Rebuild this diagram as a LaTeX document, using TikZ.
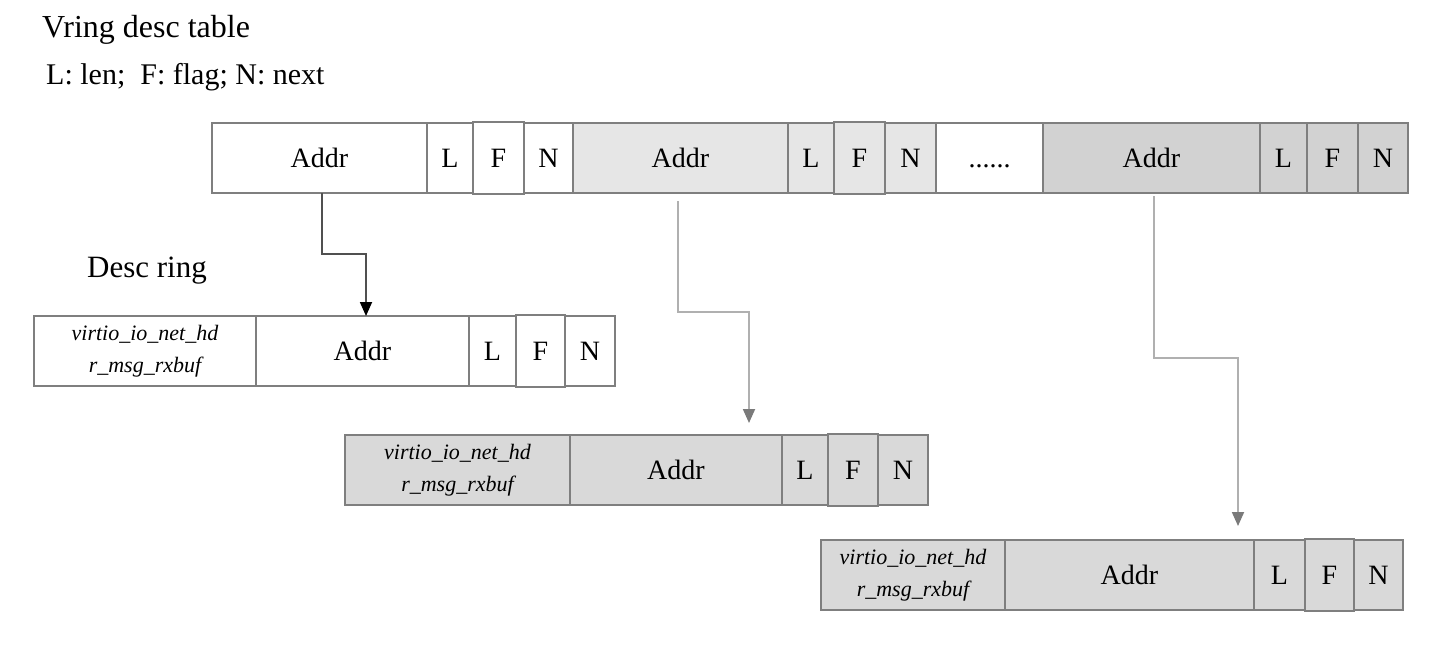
\documentclass[tikz,border=0pt]{standalone}
\usepackage{fontspec}
\setmainfont{Liberation Serif}
\usetikzlibrary{arrows.meta}
\definecolor{bord}{HTML}{7F7F7F}
\definecolor{fillA}{HTML}{E6E6E6}
\definecolor{fillB}{HTML}{D2D2D2}
\definecolor{fillC}{HTML}{D9D9D9}
\definecolor{arrg}{HTML}{B0B0B0}
\definecolor{arrgh}{HTML}{7A7A7A}
\definecolor{arrk}{HTML}{505050}
\tikzset{
  cell/.style={draw=bord, line width=1.6pt, anchor=north west, inner sep=0pt, outer sep=0pt,
    minimum height=70pt, font=\fontsize{28}{32}\selectfont},
  vcell/.style={cell, align=center, font=\fontsize{22}{32}\selectfont\itshape},
  lbl/.style={anchor=base west, inner sep=0pt, font=\fontsize{30}{34}\selectfont},
  arrblack/.style={draw=arrk, line width=1.8pt, -{Triangle[length=14pt,width=12pt,color=black]}},
  arrgray/.style={draw=arrg, line width=1.8pt, -{Triangle[length=14pt,width=12pt,color=arrgh]}}
}
\begin{document}
\begin{tikzpicture}[x=1pt,y=-1pt]
\path[use as bounding box, fill=white] (0,0) rectangle (1448,656);

\node[lbl, font=\fontsize{32}{36}\selectfont] (title) at (42,37) {Vring desc table};
\node[lbl] (legend) at (46,84) {L: len;\ \ F: flag; N: next};
\node[lbl, font=\fontsize{31}{36}\selectfont] (descring) at (87,277) {Desc ring};

% top row
\node[cell, minimum width=215pt] (t1a) at (212,123) {Addr};
\node[cell, minimum width=46pt] (t1l) at (427,123) {L};
\node[cell, minimum width=51pt, minimum height=72pt] (t1f) at (473,122) {F};
\node[cell, minimum width=49pt] (t1n) at (524,123) {N};
\node[cell, fill=fillA, minimum width=215pt] (t2a) at (573,123) {Addr};
\node[cell, fill=fillA, minimum width=46pt] (t2l) at (788,123) {L};
\node[cell, fill=fillA, minimum width=51pt, minimum height=72pt] (t2f) at (834,122) {F};
\node[cell, fill=fillA, minimum width=51pt] (t2n) at (885,123) {N};
\node[cell, minimum width=107pt] (tdots) at (936,123) {\vphantom{Ld}......};
\node[cell, fill=fillB, minimum width=217pt] (t3a) at (1043,123) {Addr};
\node[cell, fill=fillB, minimum width=47pt] (t3l) at (1260,123) {L};
\node[cell, fill=fillB, minimum width=51pt] (t3f) at (1307,123) {F};
\node[cell, fill=fillB, minimum width=50pt] (t3n) at (1358,123) {N};

% row 1
\node[vcell, minimum width=222pt] (r1v) at (34,316) {virtio\_io\_net\_hd\\r\_msg\_rxbuf};
\node[cell, minimum width=213pt] (r1a) at (256,316) {Addr};
\node[cell, minimum width=47pt] (r1l) at (469,316) {L};
\node[cell, minimum width=49pt, minimum height=72pt] (r1f) at (516,315) {F};
\node[cell, minimum width=50pt] (r1n) at (565,316) {N};

% row 2
\node[vcell, fill=fillC, minimum width=225pt] (r2v) at (345,435) {virtio\_io\_net\_hd\\r\_msg\_rxbuf};
\node[cell, fill=fillC, minimum width=212pt] (r2a) at (570,435) {Addr};
\node[cell, fill=fillC, minimum width=46pt] (r2l) at (782,435) {L};
\node[cell, fill=fillC, minimum width=50pt, minimum height=72pt] (r2f) at (828,434) {F};
\node[cell, fill=fillC, minimum width=50pt] (r2n) at (878,435) {N};

% row 3
\node[vcell, fill=fillC, minimum width=184pt] (r3v) at (821,540) {virtio\_io\_net\_hd\\r\_msg\_rxbuf};
\node[cell, fill=fillC, minimum width=249pt] (r3a) at (1005,540) {Addr};
\node[cell, fill=fillC, minimum width=51pt] (r3l) at (1254,540) {L};
\node[cell, fill=fillC, minimum width=49pt, minimum height=72pt] (r3f) at (1305,539) {F};
\node[cell, fill=fillC, minimum width=49pt] (r3n) at (1354,540) {N};

% arrows
\coordinate (k1) at (366,254);
\coordinate (e1) at (366,316);
\coordinate (k2) at (749,312);
\coordinate (e2) at (749,423);
\coordinate (k3) at (1238,358);
\coordinate (e3) at (1238,526);
\draw[arrblack] ([xshift=2.5pt]t1a.south) |- (k1) -- (e1);
\draw[arrgray] ([xshift=-2.5pt,yshift=-8pt]t2a.south) |- (k2) -- (e2);
\draw[arrgray] ([xshift=2.5pt,yshift=-3pt]t3a.south) |- (k3) -- (e3);
\end{tikzpicture}
\end{document}
